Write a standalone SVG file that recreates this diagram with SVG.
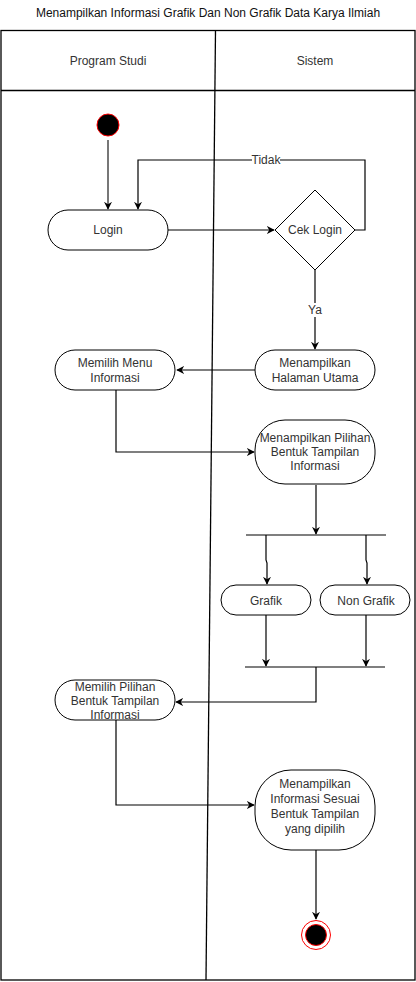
<svg xmlns="http://www.w3.org/2000/svg" width="416" height="982" viewBox="0 0 416 982">
  <defs>
    <marker id="arrow" viewBox="0 0 10 10" refX="9" refY="5" markerWidth="8" markerHeight="8" markerUnits="userSpaceOnUse" orient="auto">
      <path d="M0,0 L10,5 L0,10 L3,5 Z" fill="#000"/>
    </marker>
  </defs>
  <style>
    text { font-family: "Liberation Sans", Arial, sans-serif; font-size: 12px; fill: #333; }
    .title { fill: #111; }
    .node { fill: #fff; stroke: #000; stroke-width: 1; }
    .frame { fill: none; stroke: #000; stroke-width: 1.3; }
    .edge { fill: none; stroke: #000; stroke-width: 1.2; marker-end: url(#arrow); }
    .line { fill: none; stroke: #000; stroke-width: 1.2; }
    .bar { stroke: #000; stroke-width: 1.2; }
    .label { fill: #333; }
  </style>

  <rect width="416" height="982" fill="#fff"/>

  <!-- title -->
  <text class="title" x="208" y="17" text-anchor="middle">Menampilkan Informasi Grafik Dan Non Grafik Data Karya Ilmiah</text>

  <!-- swimlanes -->
  <g id="lanes">
    <rect class="frame" x="1" y="30.5" width="414" height="949.5"/>
    <line class="frame" x1="1" y1="90.5" x2="415" y2="90.5"/>
    <line x1="215.5" y1="30.5" x2="206" y2="980" stroke="#000" stroke-width="1.3"/>
    <text x="108" y="65" text-anchor="middle">Program Studi</text>
    <text x="315" y="65" text-anchor="middle">Sistem</text>
  </g>

  <!-- connectors -->
  <g id="connectors">
    <line x1="108" y1="140" x2="108" y2="209" stroke="#777" stroke-width="2" marker-end="url(#arrow)"/>
    <path class="edge" d="M168,230 H274"/>
    <path class="edge" d="M355,230 H365 V160 H138 V209"/>
    <rect x="252" y="153" width="28" height="14" fill="#fff"/>
    <text class="label" x="266" y="164" text-anchor="middle" font-size="11">Tidak</text>
    <path class="edge" d="M315,270 V349"/>
    <rect x="306" y="303" width="18" height="14" fill="#fff"/>
    <text class="label" x="315" y="314" text-anchor="middle" font-size="11">Ya</text>
    <path class="edge" d="M255,370 H177"/>
    <path class="edge" d="M116,390 V452 H254"/>
    <path class="edge" d="M316,485 V534"/>
    <path class="edge" d="M266,535 V560 L267,563 V584"/>
    <path class="edge" d="M366,535 V560 L367,563 V584"/>
    <path class="edge" d="M266,615 V666"/>
    <path class="edge" d="M366,615 V666"/>
    <path class="edge" d="M316,667 V702 H176"/>
    <path class="edge" d="M116,720 V805 H254"/>
    <path class="edge" d="M316,850 V919"/>
  </g>

  <!-- nodes -->
  <g id="start">
    <circle cx="108" cy="125" r="11" fill="#000" stroke="#f00" stroke-width="1"/>
  </g>

  <g id="login">
    <rect class="node" x="48" y="210" width="120" height="40" rx="20" ry="20"/>
    <text x="108" y="234" text-anchor="middle">Login</text>
  </g>

  <g id="cek-login">
    <polygon class="node" points="315,190 355,230 315,270 275,230"/>
    <text x="315" y="234" text-anchor="middle">Cek Login</text>
  </g>

  <g id="halaman-utama">
    <rect class="node" x="255" y="350" width="120" height="40" rx="20" ry="20"/>
    <text x="315" y="367" text-anchor="middle">Menampilkan</text>
    <text x="315" y="382" text-anchor="middle">Halaman Utama</text>
  </g>

  <g id="menu-informasi">
    <rect class="node" x="55" y="350" width="120" height="40" rx="20" ry="20"/>
    <text x="115" y="367" text-anchor="middle">Memilih Menu</text>
    <text x="115" y="382" text-anchor="middle">Informasi</text>
  </g>

  <g id="pilihan-bentuk">
    <rect class="node" x="255" y="420" width="120" height="64" rx="30" ry="30"/>
    <text x="315" y="442" text-anchor="middle">Menampilkan Pilihan</text>
    <text x="315" y="456" text-anchor="middle">Bentuk Tampilan</text>
    <text x="315" y="470" text-anchor="middle">Informasi</text>
  </g>

  <g id="fork">
    <line class="bar" x1="246" y1="535" x2="386" y2="535"/>
  </g>

  <g id="grafik">
    <rect class="node" x="221" y="585" width="90" height="30" rx="15" ry="15"/>
    <text x="266" y="605" text-anchor="middle">Grafik</text>
  </g>

  <g id="non-grafik">
    <rect class="node" x="320" y="585" width="90" height="30" rx="15" ry="15"/>
    <text x="366" y="605" text-anchor="middle">Non Grafik</text>
  </g>

  <g id="join">
    <line class="bar" x1="245" y1="667" x2="385" y2="667"/>
  </g>

  <g id="memilih-pilihan">
    <rect class="node" x="55" y="680" width="120" height="40" rx="20" ry="20"/>
    <text x="115" y="691" text-anchor="middle">Memilih Pilihan</text>
    <text x="115" y="705" text-anchor="middle">Bentuk Tampilan</text>
    <text x="115" y="719" text-anchor="middle">Informasi</text>
  </g>

  <g id="informasi-sesuai">
    <rect class="node" x="255" y="770" width="120" height="80" rx="36" ry="36"/>
    <text x="315" y="788" text-anchor="middle">Menampilkan</text>
    <text x="315" y="803" text-anchor="middle">Informasi Sesuai</text>
    <text x="315" y="818" text-anchor="middle">Bentuk Tampilan</text>
    <text x="315" y="833" text-anchor="middle">yang dipilih</text>
  </g>

  <g id="end">
    <circle cx="316" cy="935" r="14.5" fill="#fff" stroke="#f00" stroke-width="1"/>
    <circle cx="316" cy="935" r="10.5" fill="#000" stroke="#f00" stroke-width="1"/>
  </g>
</svg>
